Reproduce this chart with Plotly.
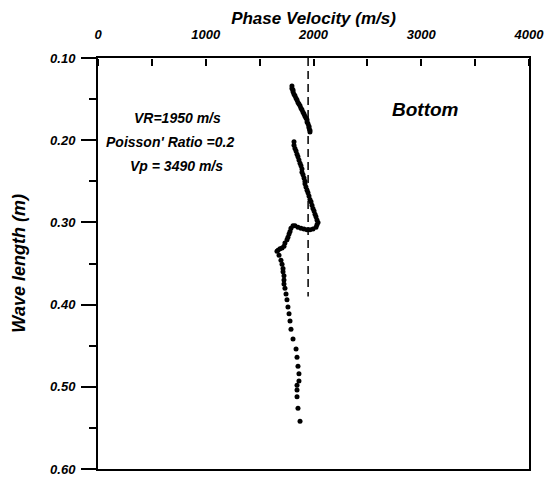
import plotly.graph_objects as go

# Dense upper segment
seg1_v = [1800, 1800, 1810, 1810, 1819, 1828, 1838, 1847, 1856, 1865, 1875, 1884,
          1893, 1903, 1912, 1921, 1930, 1940, 1940, 1949, 1958, 1958, 1967, 1967]
seg1_w = [0.134, 0.137, 0.139, 0.141, 0.144, 0.146, 0.149, 0.151, 0.154, 0.156, 0.158, 0.161,
          0.163, 0.166, 0.168, 0.171, 0.173, 0.175, 0.178, 0.180, 0.183, 0.185, 0.188, 0.190]

# Dense middle segment
seg2_v = [1819, 1819, 1828, 1838, 1847, 1856, 1865, 1875, 1884, 1893, 1893, 1903, 1912,
          1921, 1921, 1930, 1940, 1949, 1958, 1967, 1977, 1986, 1995, 2005, 2014, 2023,
          2032, 2042, 2032, 2023, 1995, 1967, 1940, 1912, 1884, 1856, 1828, 1810, 1791,
          1782, 1773, 1763, 1754, 1735, 1726, 1708, 1689, 1671, 1661]
seg2_w = [0.202, 0.206, 0.210, 0.213, 0.217, 0.220, 0.224, 0.228, 0.231, 0.235, 0.239, 0.242,
          0.246, 0.250, 0.253, 0.257, 0.261, 0.264, 0.268, 0.272, 0.275, 0.279, 0.283, 0.286,
          0.290, 0.293, 0.297, 0.300, 0.303, 0.306, 0.308, 0.309, 0.309, 0.308, 0.307,
          0.306, 0.304, 0.304, 0.307, 0.311, 0.314, 0.318, 0.321, 0.325, 0.329, 0.331,
          0.332, 0.334, 0.335]

# Sparse lower points
seg3_v = [1680, 1698, 1708, 1717, 1717, 1726, 1726, 1726, 1735, 1745, 1754, 1763, 1773,
          1782, 1791, 1810, 1838, 1847, 1856, 1865, 1865, 1847, 1847, 1847, 1856, 1875]
seg3_w = [0.340, 0.346, 0.351, 0.356, 0.360, 0.365, 0.370, 0.375, 0.380, 0.387, 0.394,
          0.403, 0.411, 0.420, 0.430, 0.442, 0.454, 0.464, 0.475, 0.484, 0.493, 0.498,
          0.504, 0.512, 0.526, 0.542]

vr_v = [1950, 1950]
vr_w = [0.10, 0.39]

FONT = "Liberation Sans, Arial, sans-serif"
bi = dict(family=FONT, color="black", weight="bold", style="italic")

fig = go.Figure()
fig.add_trace(go.Scatter(x=vr_v, y=vr_w, mode="lines", xaxis="x2",
                         line=dict(color="black", width=1.5, dash="8px,5px"),
                         showlegend=False, hoverinfo="skip"))
for vx, wy in ((seg1_v, seg1_w), (seg2_v, seg2_w), (seg3_v, seg3_w)):
    fig.add_trace(go.Scatter(x=vx, y=wy, mode="markers",
                             marker=dict(color="black", size=5),
                             showlegend=False))

fig.update_layout(
    width=547, height=479,
    margin=dict(l=98, r=18, t=58, b=10, autoexpand=False),
    paper_bgcolor="white", plot_bgcolor="white",
    title=dict(text="<b><i>Phase Velocity (m/s)</i></b>", xref="paper", x=0.5, xanchor="center",
               yref="container", y=1 - 18 / 479, yanchor="middle",
               font=dict(size=17, family=FONT, color="black")),
    # frame + tick labels along the top
    xaxis=dict(side="top", range=[0, 4000], tickmode="linear", tick0=0, dtick=1000,
               ticks="",
               showline=True, linewidth=2, linecolor="black", mirror=True,
               showgrid=False, zeroline=False, automargin=False,
               tickfont=dict(size=13, **bi), ticklabelstandoff=12),
    # tick marks hanging down from the top frame
    xaxis2=dict(side="bottom", overlaying="x", anchor="free", position=1, range=[0, 4000],
                tickmode="linear", tick0=0, dtick=1000,
                ticks="outside", ticklen=7, tickwidth=1.5, tickcolor="black",
                minor=dict(dtick=500, ticks="outside", ticklen=7, tickwidth=1.5, tickcolor="black"),
                showticklabels=False,
                showline=False, showgrid=False, zeroline=False, automargin=False),
    yaxis=dict(range=[0.60, 0.10], tickmode="linear", tick0=0.1, dtick=0.1, tickformat=".2f",
               ticks="outside", ticklen=15, tickwidth=1.5, tickcolor="black",
               minor=dict(dtick=0.05, tick0=0.1, ticks="outside", ticklen=7, tickwidth=1.5, tickcolor="black"),
               showline=True, linewidth=2, linecolor="black", mirror=True,
               showgrid=False, zeroline=False, automargin=False,
               tickfont=dict(size=13, **bi), ticklabelstandoff=3),
    annotations=[
        dict(text="Wave length (m)", xref="paper", yref="paper", x=-0.185, y=0.5,
             xanchor="center", yanchor="middle",
             textangle=-90, showarrow=False, font=dict(size=18, **bi)),
        dict(text="VR=1950 m/s", x=742, y=0.173, showarrow=False, font=dict(size=14, **bi)),
        dict(text="Poisson' Ratio =0.2", x=668, y=0.202, showarrow=False, font=dict(size=14, **bi)),
        dict(text="Vp = 3490 m/s", x=724, y=0.231, showarrow=False, font=dict(size=14, **bi)),
        dict(text="Bottom", x=3035, y=0.163, showarrow=False, font=dict(size=19, **bi)),
    ],
)

fig.write_html("out.html")
